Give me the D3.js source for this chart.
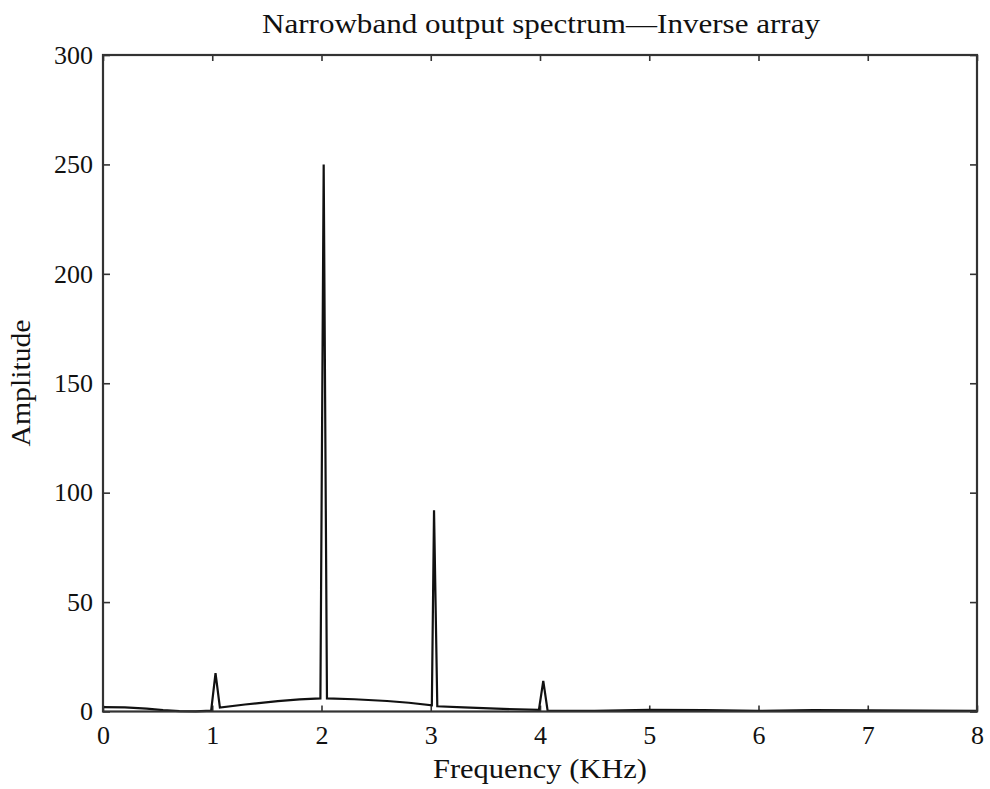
<!DOCTYPE html>
<html><head><meta charset="utf-8">
<script src="https://cdn.jsdelivr.net/npm/d3@7"></script>
<style>body{margin:0;background:#fff}</style>
</head><body>
<svg id="c" width="990" height="789"></svg>
<script>
const freq = [0, 0.2, 0.4, 0.55, 0.7, 0.85, 0.99, 1.03, 1.07, 1.3, 1.6, 1.8, 1.99, 2.02, 2.05, 2.3, 2.6, 2.8, 3.01, 3.03, 3.06, 3.3, 3.6, 3.99, 4.03, 4.07, 4.5, 5, 5.5, 6, 6.5, 7, 7.5, 8];
const amp  = [2, 1.9, 1.3, 0.6, 0.2, 0.1, 0.4, 17.5, 1.8, 3.2, 4.7, 5.5, 6, 250, 6, 5.6, 4.8, 4, 2.8, 92, 2.4, 1.9, 1.3, 0.7, 14, 0.3, 0.3, 0.8, 0.6, 0.3, 0.6, 0.5, 0.4, 0.3];
const xTicks = [0,1,2,3,4,5,6,7,8];
const yTicks = [0,50,100,150,200,250,300];
const title = "Narrowband output spectrum\u2014Inverse array";
const xLabel = "Frequency (KHz)";
const yLabel = "Amplitude";

const L=103, R=977, T=55, B=711.5;
const svg = d3.select("#c");
const x = d3.scaleLinear().domain([0,8]).range([L,R]);
const y = d3.scaleLinear().domain([0,300]).range([B,T]);
const font = "'Liberation Serif', serif";

const g = svg.append("g");
g.append("g").attr("transform",`translate(0,${B})`).call(d3.axisBottom(x).tickValues(xTicks).tickSizeInner(-6).tickSizeOuter(0).tickPadding(14).tickFormat(d3.format("d")));
g.append("g").attr("transform",`translate(0,${T})`).call(d3.axisTop(x).tickValues(xTicks).tickSizeInner(-6).tickSizeOuter(0).tickFormat(""));
g.append("g").attr("transform",`translate(${L},0)`).call(d3.axisLeft(y).tickValues(yTicks).tickSizeInner(-7).tickSizeOuter(0).tickPadding(10).tickFormat(d3.format("d")));
g.append("g").attr("transform",`translate(${R},0)`).call(d3.axisRight(y).tickValues(yTicks).tickSizeInner(-7).tickSizeOuter(0).tickFormat(""));
g.selectAll(".domain").remove();
g.selectAll(".tick line").attr("stroke","#333").attr("stroke-width",1.6);
g.selectAll(".tick text").attr("font-family",font).attr("font-size",26).attr("fill","#111");

const line = d3.line().x((d,i)=>x(freq[i])).y(d=>y(d));
svg.append("path").datum(amp).attr("d",line).attr("fill","none").attr("stroke","#111").attr("stroke-width",2.2).attr("stroke-linejoin","miter");

svg.append("rect").attr("x",L).attr("y",T).attr("width",R-L).attr("height",B-T).attr("fill","none").attr("stroke","#333").attr("stroke-width",2.2);

svg.append("text").attr("x",541).attr("y",33).attr("text-anchor","middle").attr("font-family",font).attr("font-size",27).attr("fill","#111").attr("textLength",558).attr("lengthAdjust","spacingAndGlyphs").text(title);
svg.append("text").attr("x",540).attr("y",778).attr("text-anchor","middle").attr("font-family",font).attr("font-size",27).attr("fill","#111").attr("textLength",214).attr("lengthAdjust","spacingAndGlyphs").text(xLabel);
svg.append("text").attr("transform","translate(30,383) rotate(-90)").attr("text-anchor","middle").attr("font-family",font).attr("font-size",27).attr("fill","#111").attr("textLength",127).attr("lengthAdjust","spacingAndGlyphs").text(yLabel);
</script>
</body></html>
